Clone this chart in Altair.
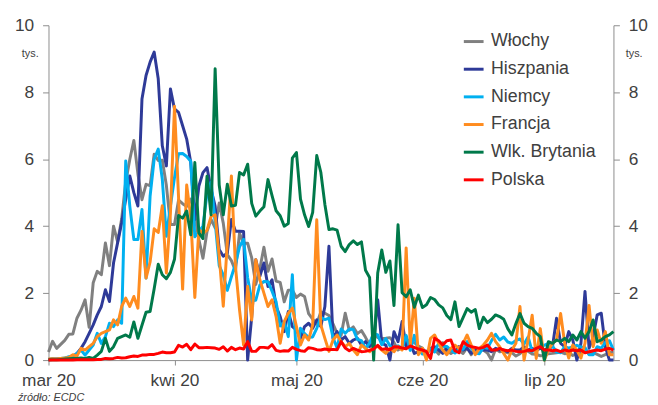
import altair as alt
import pandas as pd

# ---------------- data (thousands of new cases per day, ECDC) ----------------
start_date = "2020-03-01"
n_days = 140
dates = pd.date_range(start_date, periods=n_days, freq="D")

series_names = ["Włochy", "Hiszpania", "Niemcy", "Francja", "Wlk. Brytania", "Polska"]
series_colors = ["#808080", "#2E3A98", "#00B0F0", "#FF8C1F", "#00794A", "#FF0000"]

wlochy = (
    [0.24, 0.56, 0.35, 0.47, 0.59, 0.77, 0.78, 1.25, 1.49, 1.80, 0.98, 2.31, 2.65, 2.55, 3.50, 2.82,
     4.00, 3.53, 4.21, 5.32, 5.99, 6.56, 5.56, 4.79, 5.25, 5.21, 6.15, 5.96, 5.97, 5.22, 4.05]
    + [4.05, 4.78, 4.67, 4.59, 4.81, 4.32, 3.60, 3.04, 3.84, 4.20, 3.95, 4.69, 4.09, 3.15, 2.97,
       2.67, 3.79, 3.49, 3.49, 3.05, 2.26, 2.73, 3.37, 2.65, 3.02, 2.36, 2.32, 1.74, 2.09, 2.09]
    + [1.87, 1.97, 1.90, 1.39, 1.22, 1.08, 1.44, 1.40, 1.33, 1.08, 0.80, 0.74, 1.40, 0.89, 0.99,
       0.79, 0.88, 0.68, 0.45, 0.81, 0.67, 0.64, 0.65, 0.67, 0.53, 0.30, 0.40, 0.58, 0.59, 0.52, 0.42]
    + [0.36, 0.18, 0.32, 0.32, 0.18, 0.52, 0.27, 0.20, 0.28, 0.28, 0.20, 0.38, 0.16, 0.35, 0.34,
       0.30, 0.21, 0.00, 0.33, 0.25, 0.26, 0.22, 0.22, 0.12, 0.19, 0.30, 0.26, 0.18, 0.17, 0.13]
    + [0.14, 0.19, 0.20, 0.22, 0.24, 0.19, 0.21, 0.14, 0.19, 0.23, 0.28, 0.19, 0.23, 0.17, 0.11,
       0.16, 0.23, 0.23]
)

hiszpania = (
    [0.01, 0.02, 0.03, 0.04, 0.05, 0.08, 0.10, 0.20, 0.35, 0.55, 0.80, 1.05, 1.35, 1.60, 2.10, 1.75,
     2.90, 3.50, 4.10, 4.80, 5.50, 5.00, 4.60, 7.80, 8.50, 8.90, 9.20, 8.40, 6.40, 5.80, 8.10]
    + [7.50, 7.40, 7.00, 6.60, 5.90, 4.20, 5.20, 5.60, 5.75, 5.10, 4.60, 3.30, 3.10, 3.20, 4.20,
       3.85, 3.85, 3.84, 0.00, 1.30, 3.00, 2.50, 2.90, 2.20, 2.40, 1.60, 1.30, 0.85, 1.45, 1.00]
    + [0.90, 0.65, 1.00, 1.10, 0.95, 1.20, 1.00, 1.60, 3.40, 0.65, 0.85, 0.60, 0.70, 0.50, 0.60,
       0.65, 0.45, 0.55, 0.40, 0.50, 1.80, 0.50, 0.45, 0.00, 0.85, 0.55, 1.15, 0.40, 0.50, 0.20, 0.25]
    + [0.30, 0.25, 0.35, 0.40, 0.30, 0.20, 0.35, 0.30, 0.25, 0.40, 0.30, 0.35, 0.20, 0.30, 0.35,
       0.30, 0.30, 0.25, 0.35, 0.30, 0.30, 0.25, 0.35, 0.30, 0.30, 0.40, 0.30, 0.35, 0.30, 0.35]
    + [0.30, 0.35, 0.40, 1.25, 0.50, 0.40, 0.85, 0.60, 0.00, 0.50, 2.05, 0.35, 0.70, 1.35, 1.40,
       0.40, 0.00, 0.00]
)

niemcy = (
    [0.02, 0.05, 0.03, 0.05, 0.06, 0.10, 0.12, 0.20, 0.30, 0.15, 0.30, 0.45, 0.80, 0.50, 0.70, 1.10,
     1.00, 1.20, 1.10, 5.95, 4.60, 3.60, 3.60, 4.50, 2.45, 4.90, 6.00, 6.30, 5.40, 3.70, 4.60]
    + [5.45, 6.16, 6.17, 6.08, 5.94, 3.68, 3.83, 4.00, 4.97, 5.32, 4.13, 2.82, 2.54, 2.08, 2.49,
       2.87, 3.38, 3.61, 2.46, 1.78, 1.79, 2.24, 2.35, 2.34, 2.06, 1.74, 1.02, 1.14, 0.70, 2.55]
    + [0.00, 0.95, 0.79, 0.68, 0.69, 0.95, 1.28, 1.21, 1.25, 0.67, 0.36, 0.93, 0.80, 0.93, 0.91,
       0.62, 0.58, 0.34, 0.51, 0.80, 0.75, 0.46, 0.64, 0.43, 0.29, 0.43, 0.35, 0.74, 0.29, 0.74, 0.33]
    + [0.18, 0.21, 0.34, 0.24, 0.51, 0.41, 0.41, 0.30, 0.21, 0.32, 0.32, 0.55, 0.35, 0.22, 0.19,
       0.38, 0.35, 0.58, 0.77, 0.60, 0.69, 0.54, 0.50, 0.59, 0.63, 0.48, 0.69, 0.26, 0.30, 0.47]
    + [0.44, 0.50, 0.42, 0.24, 0.22, 0.40, 0.36, 0.40, 0.44, 0.39, 0.38, 0.16, 0.16, 0.40, 0.35,
       0.53, 0.58, 0.30]
)

francja = (
    [0.03, 0.04, 0.03, 0.05, 0.06, 0.08, 0.16, 0.12, 0.35, 0.30, 0.40, 0.50, 0.70, 0.80, 0.85, 0.90,
     1.20, 1.05, 1.60, 1.85, 1.60, 1.90, 1.55, 3.84, 2.45, 2.93, 3.92, 3.81, 4.61, 2.60, 4.38]
    + [7.58, 4.86, 2.12, 5.23, 4.27, 1.87, 3.91, 3.78, 3.88, 4.29, 4.34, 3.11, 1.61, 3.50, 5.50,
       2.80, 1.50, 0.45, 2.20, 1.20, 3.00, 2.40, 2.00, 1.60, 1.80, 1.30, 0.50, 1.15, 1.40, 1.55]
    + [1.00, 0.45, 0.75, 0.60, 1.05, 4.19, 1.05, 0.65, 0.26, 0.60, 0.75, 0.55, 0.40, 0.50, 0.30,
       0.16, 0.45, 0.35, 0.25, 0.40, 0.41, 0.30, 0.20, 0.35, 0.25, 0.40, 0.30, 3.35, 0.45, 1.85, 0.16]
    + [0.35, 0.00, 0.65, 0.75, 0.50, 0.30, 0.16, 0.35, 0.45, 0.35, 0.50, 0.75, 0.45, 0.16, 0.35,
       0.45, 0.60, 0.80, 0.55, 0.40, 0.20, 0.00, 0.30, 0.50, 1.60, 0.00, 0.60, 1.34, 0.05, 0.94]
    + [0.00, 0.30, 0.50, 0.60, 1.39, 0.50, 0.06, 0.45, 0.30, 0.06, 0.50, 1.63, 0.40, 0.90, 0.50,
       0.85, 0.16, 0.16]
)

wlk_brytania = (
    [0.01, 0.01, 0.01, 0.02, 0.03, 0.04, 0.05, 0.05, 0.06, 0.05, 0.08, 0.05, 0.15, 0.26, 0.65, 0.26,
     0.40, 0.65, 0.70, 0.75, 0.68, 1.14, 0.65, 1.04, 1.43, 1.45, 2.13, 2.86, 2.55, 2.43, 2.62]
    + [3.01, 4.32, 4.24, 4.45, 3.74, 5.90, 3.80, 3.63, 5.49, 4.34, 8.70, 5.23, 4.34, 5.25, 4.60,
       4.62, 5.60, 5.53, 5.85, 4.68, 4.30, 4.45, 4.58, 5.39, 4.91, 4.46, 4.31, 4.00, 4.08, 6.03]
    + [6.20, 4.81, 4.34, 3.99, 4.41, 6.11, 5.61, 4.65, 3.90, 3.92, 3.88, 3.40, 3.24, 3.45, 3.56,
       3.45, 3.53, 2.68, 2.47, 0.00, 2.60, 3.29, 2.62, 2.96, 1.63, 4.04, 2.01, 1.89, 2.10, 1.58, 1.94]
    + [1.57, 1.65, 1.87, 1.81, 1.65, 1.56, 1.33, 1.21, 1.74, 1.00, 1.27, 1.54, 1.43, 1.51, 0.94,
       1.28, 1.12, 1.22, 1.35, 1.30, 1.22, 0.94, 0.75, 1.09, 1.39, 1.10, 1.00, 0.95, 0.80, 0.70]
    + [0.00, 0.55, 0.50, 0.60, 0.55, 0.65, 0.55, 0.75, 0.60, 0.85, 0.65, 0.85, 1.20, 0.55, 0.60,
       0.70, 0.75, 0.85]
)

polska = (
    [0.00, 0.00, 0.00, 0.00, 0.00, 0.00, 0.00, 0.01, 0.01, 0.01, 0.01, 0.01, 0.02, 0.02, 0.05, 0.04,
     0.05, 0.08, 0.06, 0.07, 0.10, 0.12, 0.11, 0.15, 0.15, 0.17, 0.17, 0.20, 0.24, 0.22, 0.22]
    + [0.24, 0.44, 0.39, 0.47, 0.31, 0.48, 0.37, 0.37, 0.38, 0.37, 0.36, 0.32, 0.40, 0.27, 0.38,
       0.31, 0.36, 0.33, 0.55, 0.26, 0.26, 0.38, 0.38, 0.36, 0.46, 0.29, 0.26, 0.28, 0.27, 0.38]
    + [0.32, 0.28, 0.26, 0.37, 0.35, 0.31, 0.30, 0.33, 0.31, 0.32, 0.31, 0.55, 0.36, 0.28, 0.35,
       0.30, 0.25, 0.26, 0.29, 0.33, 0.44, 0.32, 0.34, 0.31, 0.40, 0.39, 0.36, 0.34, 0.42, 0.38, 0.33]
    + [0.30, 0.25, 0.05, 0.65, 0.58, 0.45, 0.58, 0.60, 0.28, 0.22, 0.55, 0.45, 0.40, 0.38, 0.35,
       0.38, 0.45, 0.30, 0.30, 0.35, 0.30, 0.28, 0.30, 0.26, 0.25, 0.26, 0.30, 0.28, 0.35, 0.40]
    + [0.30, 0.30, 0.28, 0.30, 0.25, 0.30, 0.27, 0.30, 0.28, 0.30, 0.22, 0.25, 0.28, 0.30, 0.28,
       0.33, 0.35, 0.30]
)

series_values = {
    "Włochy": wlochy,
    "Hiszpania": hiszpania,
    "Niemcy": niemcy,
    "Francja": francja,
    "Wlk. Brytania": wlk_brytania,
    "Polska": polska,
}

month_labels = ["sty", "lut", "mar", "kwi", "maj", "cze", "lip", "sie", "wrz", "paź", "lis", "gru"]
tick_months = [3, 4, 5, 6, 7]
y_ticks = [0, 2, 4, 6, 8, 10]
unit_label = "tys."
source_note = "źródło: ECDC"

rows = []
for name in series_names:
    vals = series_values[name]
    assert len(vals) == n_days, (name, len(vals))
    for d, v in zip(dates, vals):
        rows.append({"data": d, "kraj": name, "tys": v})
df = pd.DataFrame(rows)

# ---------------- styling ----------------
FONT = "Liberation Sans"
TXT = "#404040"
AX = "#8c8c8c"

label_expr = "[" + ",".join("'%s'" % m for m in month_labels) + "][month(datum.value)] + ' 20'"

x_enc = alt.X(
    "data:T",
    scale=alt.Scale(domain=[alt.DateTime(year=2020, month=3, date=1),
                            alt.DateTime(year=2020, month=7, date=18)]),
    axis=alt.Axis(
        values=[alt.DateTime(year=2020, month=m, date=1) for m in tick_months],
        labelExpr=label_expr, title=None, grid=False,
        labelFont=FONT, labelFontSize=17.5, labelColor=TXT, labelPadding=7,
        tickSize=5, tickColor=AX, domainColor=AX, labelFlush=False, labelOverlap=False,
    ),
)

y_scale = alt.Scale(domain=[0, 10], nice=False)


def y_axis(orient, title_x):
    return alt.Axis(
        orient=orient, values=y_ticks, grid=False,
        labelFont=FONT, labelFontSize=17.5, labelColor=TXT, labelPadding=9,
        tickSize=6, tickColor=AX, domainColor=AX,
        title=unit_label, titleAngle=0, titleX=title_x, titleY=29,
        titleAlign="center", titleBaseline="middle",
        titleFont=FONT, titleFontSize=11, titleFontWeight="normal", titleColor=TXT,
    )


color_enc = alt.Color(
    "kraj:N",
    scale=alt.Scale(domain=series_names, range=series_colors),
    legend=alt.Legend(
        title=None, orient="none", legendX=419, legendY=5,
        symbolType="stroke", symbolStrokeWidth=3, symbolSize=400,
        labelFont=FONT, labelFontSize=18, labelColor=TXT, labelOffset=6,
        rowPadding=7, padding=0,
    ),
)

base = alt.Chart(df)
layers = []
for i, name in enumerate(series_names):
    layers.append(
        base.transform_filter(alt.datum.kraj == name)
        .mark_line(strokeWidth=3, strokeJoin="round")
        .encode(
            x=x_enc,
            y=alt.Y("tys:Q", scale=y_scale, axis=y_axis("left", -19) if i == 0 else None),
            color=color_enc,
        )
    )

right_axis_layer = base.mark_line(strokeOpacity=0).encode(
    x=x_enc,
    y=alt.Y("tys:Q", scale=y_scale, axis=y_axis("right", 20.5)),
    detail="kraj:N",
)

note_layer = alt.Chart(pd.DataFrame({"note": [source_note]})).mark_text(
    align="left", baseline="alphabetic", font=FONT, fontSize=11, fontStyle="italic", color=TXT
).encode(text="note:N", x=alt.value(-31), y=alt.value(380))

chart = (
    alt.layer(*layers, right_axis_layer, note_layer)
    .resolve_scale(y="shared")
    .resolve_axis(y="independent")
    .properties(
        width=572, height=339,
        autosize=alt.AutoSizeParams(type="none"),
        padding={"left": 41, "top": 15, "right": 37, "bottom": 43},
        background="white",
    )
    .configure_view(strokeOpacity=0)
)

chart.save("out.html", embed_options={"renderer": "svg", "actions": False})
